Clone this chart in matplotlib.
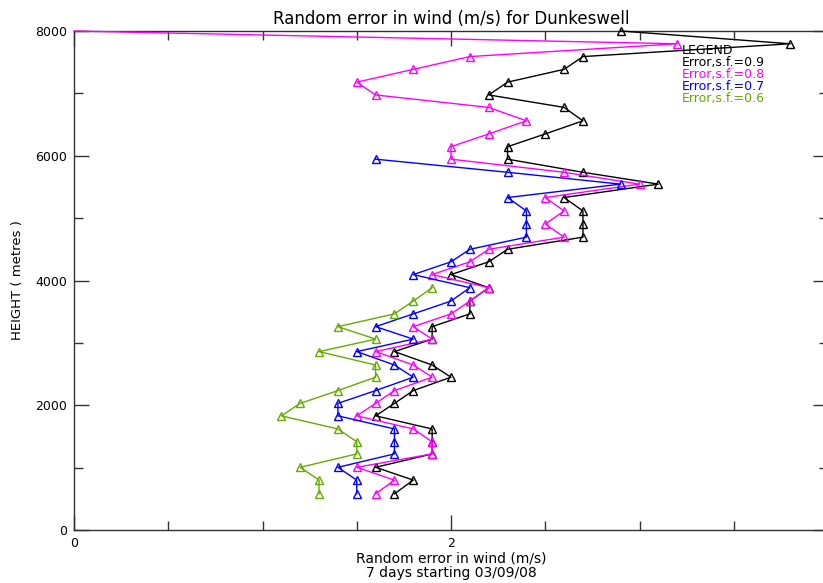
import matplotlib
matplotlib.use("Agg")
import matplotlib.pyplot as plt
from matplotlib.ticker import MultipleLocator, FixedLocator

# Heights (m) of the levels, bottom to top
heights = [580, 800, 1005, 1220, 1415, 1620, 1830, 2030, 2235, 2450, 2645, 2860,
           3060, 3260, 3465, 3670, 3885, 4095, 4300, 4500, 4695, 4905, 5115, 5330,
           5545, 5735, 5945, 6145, 6350, 6560, 6775, 6975, 7180, 7385, 7590, 7795, 8000]

# Random error (m/s) per series, bottom to top
err_09 = [1.7, 1.8, 1.6, 1.9, 1.9, 1.9, 1.6, 1.7, 1.8, 2.0, 1.9, 1.7,
          1.9, 1.9, 2.1, 2.1, 2.2, 2.0, 2.2, 2.3, 2.7, 2.7, 2.7, 2.6,
          3.1, 2.7, 2.3, 2.3, 2.5, 2.7, 2.6, 2.2, 2.3, 2.6, 2.7, 3.8, 2.9]
err_08 = [1.6, 1.7, 1.5, 1.9, 1.9, 1.8, 1.5, 1.6, 1.7, 1.9, 1.8, 1.6,
          1.9, 1.8, 2.0, 2.1, 2.2, 1.9, 2.1, 2.2, 2.6, 2.5, 2.6, 2.5,
          3.0, 2.6, 2.0, 2.0, 2.2, 2.4, 2.2, 1.6, 1.5, 1.8, 2.1, 3.2, 0.0]
err_07 = [1.5, 1.5, 1.4, 1.7, 1.7, 1.7, 1.4, 1.4, 1.6, 1.8, 1.7, 1.5,
          1.8, 1.6, 1.8, 2.0, 2.1, 1.8, 2.0, 2.1, 2.4, 2.4, 2.4, 2.3,
          2.9, 2.3, 1.6]
err_06 = [1.3, 1.3, 1.2, 1.5, 1.5, 1.4, 1.1, 1.2, 1.4, 1.6, 1.6, 1.3,
          1.6, 1.4, 1.7, 1.8, 1.9]

labels = ["Error,s.f.=0.9", "Error,s.f.=0.8", "Error,s.f.=0.7", "Error,s.f.=0.6"]
colors = ["#000000", "#ff00ff", "#0000ff", "#66aa00"]
series = [err_09, err_08, err_07, err_06]

fig = plt.figure(figsize=(8.23, 5.83), dpi=100)
ax = fig.add_axes([74 / 823, 53 / 583, 754 / 823, 499 / 583])

for vals, col in zip(series, colors):
    n = len(vals)
    # no marker drawn where the value is zero (missing)
    marks = [i for i in range(n) if vals[i] > 0]
    ax.plot(vals, heights[:n], color=col, lw=1.0, marker="^", markevery=marks,
            ms=5.5, mfc="none", mec=col, mew=1.0, clip_on=False, zorder=3)

ax.set_xlim(0, 4)
ax.set_ylim(0, 8000)

ax.xaxis.set_major_locator(FixedLocator([0, 2, 4]))
ax.set_xticklabels(["0", "2", ""])
ax.xaxis.set_minor_locator(MultipleLocator(0.5))
ax.yaxis.set_major_locator(MultipleLocator(2000))
ax.yaxis.set_minor_locator(MultipleLocator(1000))

ax.tick_params(which="both", direction="in", top=True, right=True,
               labelsize=9, color="#333333")
ax.tick_params(which="major", length=11, width=1.0, pad=5)
ax.tick_params(which="minor", length=6.5, width=1.0)
for sp in ax.spines.values():
    sp.set_color("#333333")
    sp.set_linewidth(1.0)

ax.set_title("Random error in wind (m/s) for Dunkeswell", fontsize=12, pad=5)
ax.set_xlabel("Random error in wind (m/s)\n7 days starting 03/09/08",
              fontsize=10, labelpad=1, linespacing=1.05)
ax.set_ylabel("HEIGHT ( metres )", fontsize=9.5, labelpad=8)

# legend as text block
leg_x = 3.224
ax.text(leg_x, 7680, "LEGEND", color="black", fontsize=9, va="center", ha="left")
for lab, col, yy in zip(labels, colors, [7488, 7295, 7103, 6920]):
    ax.text(leg_x, yy, lab, color=col, fontsize=9, va="center", ha="left")

fig.savefig("out.png", dpi=100)
